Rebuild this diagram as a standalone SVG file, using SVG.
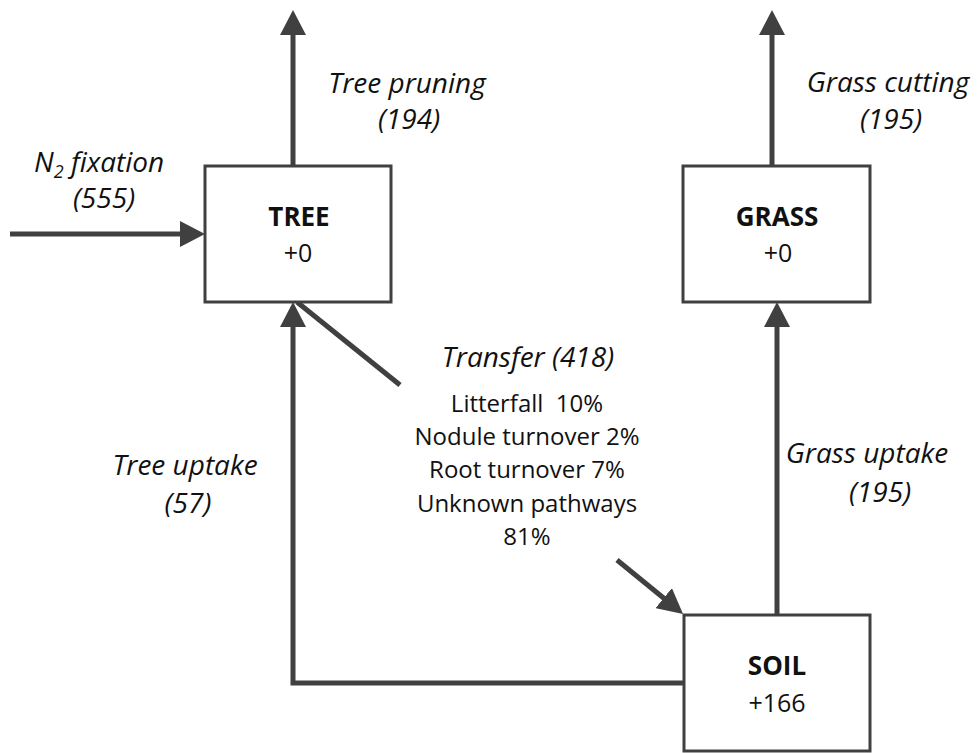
<svg xmlns="http://www.w3.org/2000/svg" width="980" height="753" viewBox="0 0 980 753">
<defs>
<style>
.box{fill:#fff;stroke:#404040;stroke-width:3}
.ln{fill:none;stroke:#404040;stroke-width:5}
.arr{marker-end:url(#ah)}
text{font-family:"Open Sans","Liberation Sans",sans-serif;fill:#111}
.lab{font-style:italic;font-size:28px;text-anchor:middle}
.ttl{font-weight:bold;font-size:26px;text-anchor:middle}
.val{font-size:25px;text-anchor:middle}
.body{font-size:24px;text-anchor:middle}
</style>
<marker id="ah" markerUnits="userSpaceOnUse" markerWidth="26" markerHeight="26" refX="3" refY="13" orient="auto">
<path d="M0,0 L25,13 L0,26 Z" fill="#404040"/>
</marker>
</defs>
<rect width="980" height="753" fill="#fff"/>
<g id="connectors">
<line class="ln arr" x1="293" y1="166" x2="293" y2="32"/>
<line class="ln arr" x1="772" y1="166" x2="772" y2="32"/>
<line class="ln arr" x1="10" y1="234" x2="183" y2="234"/>
<path class="ln arr" d="M684,683 H293 V324"/>
<line class="ln arr" x1="777" y1="615" x2="777" y2="324"/>
<line class="ln" x1="297" y1="302" x2="400" y2="385"/>
<line class="ln arr" x1="617" y1="560" x2="666" y2="600"/>
</g>
<g id="tree">
<rect class="box" x="205" y="166" width="186" height="136"/>
<text class="ttl" x="299" y="226">TREE</text>
<text class="val" x="298" y="262">+0</text>
</g>
<g id="grass">
<rect class="box" x="683" y="166" width="187" height="136"/>
<text class="ttl" x="777" y="226">GRASS</text>
<text class="val" x="778" y="262">+0</text>
</g>
<g id="soil">
<rect class="box" x="684" y="615" width="186" height="136"/>
<text class="ttl" x="777" y="675">SOIL</text>
<text class="val" x="777" y="712">+166</text>
</g>
<g id="labels">
<text class="lab" x="407" y="93">Tree pruning</text>
<text class="lab" x="409" y="129">(194)</text>
<text class="lab" x="888" y="92">Grass cutting</text>
<text class="lab" x="891" y="129">(195)</text>
<text style="font-style:italic;font-size:28px" x="34" y="172">N<tspan font-size="18" dy="6">2</tspan><tspan dy="-6"> fixation</tspan></text>
<text class="lab" x="104" y="208">(555)</text>
<text class="lab" x="185" y="475">Tree uptake</text>
<text class="lab" x="188" y="513">(57)</text>
<text class="lab" x="867" y="463">Grass uptake</text>
<text class="lab" x="880" y="502">(195)</text>
<text class="lab" x="528" y="367">Transfer (418)</text>
<text class="body" x="527" y="412" xml:space="preserve">Litterfall  10%</text>
<text class="body" x="527" y="445">Nodule turnover 2%</text>
<text class="body" x="527" y="478">Root turnover 7%</text>
<text class="body" x="527" y="512">Unknown pathways</text>
<text class="body" x="527" y="545">81%</text>
</g>
</svg>
